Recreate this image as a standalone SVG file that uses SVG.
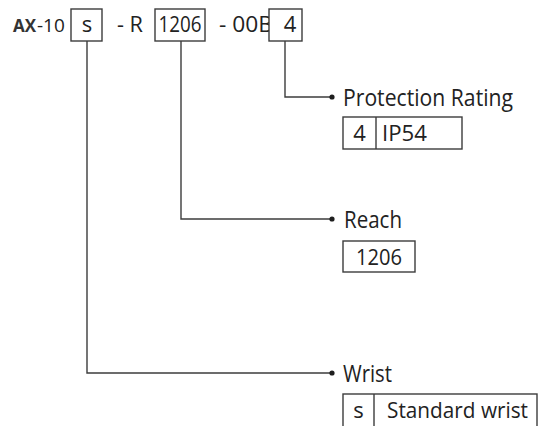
<svg xmlns="http://www.w3.org/2000/svg" width="540" height="426" viewBox="0 0 540 426">
<defs>
<style>
text{font-family:"Open Sans","Noto Sans","DejaVu Sans",sans-serif;fill:#222;font-size:23px}
.code{font-size:22px}
.in{font-size:22px}
.ax{font-size:17px;font-weight:bold;fill:#333}
.num{font-size:19px}
.bx{fill:#fff;stroke:#3c3c3c;stroke-width:1.4}
.ln{fill:none;stroke:#3c3c3c;stroke-width:1.4}
.dot{fill:#1e1e1e}
</style>
</defs>
<rect width="540" height="426" fill="#fff"/>
<g id="code">
<text class="ax" x="13" y="32">AX</text>
<text class="num" x="37" y="32">-10</text>
<rect class="bx" x="71" y="9" width="31" height="32"/>
<text class="code" x="87" y="32" text-anchor="middle">s</text>
<text class="code" x="117" y="32" textLength="26" lengthAdjust="spacingAndGlyphs">- R</text>
<text class="code" x="219" y="32" textLength="54" lengthAdjust="spacingAndGlyphs">- 00B</text>
<rect class="bx" x="155" y="9" width="50" height="32"/>
<text class="code" x="180" y="32" text-anchor="middle" textLength="43" lengthAdjust="spacingAndGlyphs">1206</text>
<rect class="bx" x="269" y="9" width="33" height="32"/>
<text class="code" x="290" y="32" text-anchor="middle">4</text>
</g>
<g id="connectors">
<polyline class="ln" points="285,41 285,97 331,97"/>
<polyline class="ln" points="181,41 181,219 331,219"/>
<polyline class="ln" points="87,41 87,373 331,373"/>
<circle class="dot" cx="332" cy="97" r="2.6"/>
<circle class="dot" cx="332" cy="219" r="2.6"/>
<circle class="dot" cx="332" cy="373" r="2.6"/>
</g>
<g id="protection">
<text x="343" y="106" textLength="170" lengthAdjust="spacingAndGlyphs">Protection Rating</text>
<rect class="bx" x="343" y="117" width="119" height="32"/>
<line class="ln" x1="376" y1="117" x2="376" y2="149"/>
<text class="in" x="359.5" y="141" text-anchor="middle">4</text>
<text class="in" x="382" y="141" textLength="45" lengthAdjust="spacingAndGlyphs">IP54</text>
</g>
<g id="reach">
<text x="344" y="228" textLength="58" lengthAdjust="spacingAndGlyphs">Reach</text>
<rect class="bx" x="343" y="241" width="72" height="31"/>
<text class="in" x="379" y="265" text-anchor="middle" textLength="46" lengthAdjust="spacingAndGlyphs">1206</text>
</g>
<g id="wrist">
<text x="343" y="382" textLength="49" lengthAdjust="spacingAndGlyphs">Wrist</text>
<rect class="bx" x="343" y="394" width="194" height="40"/>
<line class="ln" x1="374" y1="394" x2="374" y2="426"/>
<text class="in" x="358.5" y="418" text-anchor="middle">s</text>
<text class="in" x="387" y="418" textLength="141" lengthAdjust="spacingAndGlyphs">Standard wrist</text>
</g>
</svg>
